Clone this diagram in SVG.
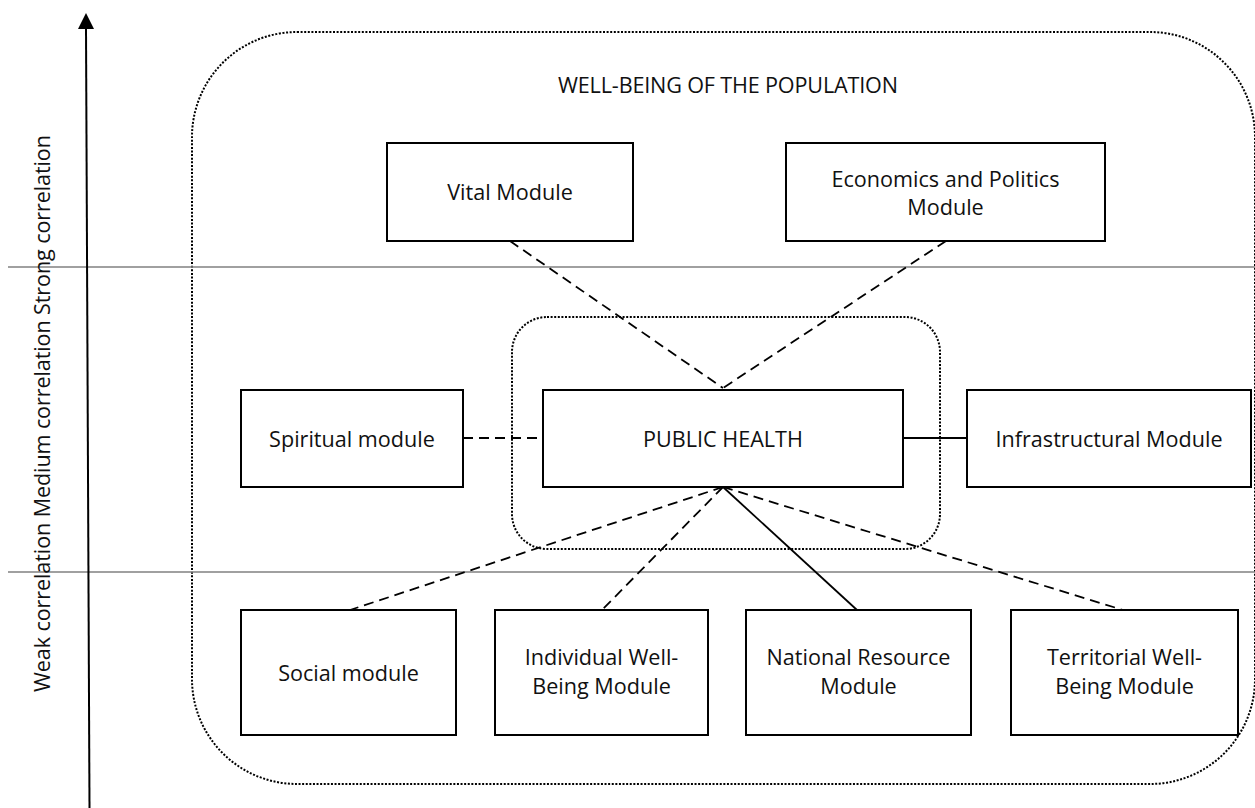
<svg xmlns="http://www.w3.org/2000/svg" width="1255" height="808" viewBox="0 0 1255 808">
<style>
  text { font-family: "Open Sans", "Liberation Sans", sans-serif; font-size: 21.6px; fill: #111111; }
  .box { fill: #ffffff; stroke: #000000; stroke-width: 2; }
  .dotted { fill: none; stroke: #000000; stroke-width: 2; stroke-dasharray: 2 1.6; }
  .band { stroke: #808080; stroke-width: 1.6; }
  .dash { stroke: #000000; stroke-width: 1.8; stroke-dasharray: 10 6; fill: none; }
  .solid { stroke: #000000; stroke-width: 1.8; fill: none; }
</style>
<rect width="1255" height="808" fill="#ffffff"/>

<g id="bands">
  <rect id="well-being-frame" class="dotted" x="192" y="32" width="1063" height="752" rx="105" ry="105"/>
  <line class="band" x1="8" y1="267" x2="1255" y2="267"/>
  <line class="band" x1="8" y1="572" x2="1255" y2="572"/>
  <rect id="public-health-frame" class="dotted" x="512" y="317" width="428" height="232" rx="35" ry="35"/>
  <text x="728" y="93" text-anchor="middle" textLength="340" lengthAdjust="spacing">WELL-BEING OF THE POPULATION</text>
</g>

<g id="axis">
  <line x1="89.5" y1="808" x2="86" y2="29" stroke="#000000" stroke-width="2"/>
  <polygon points="86,13 78,29 94,29" fill="#000000"/>
  <text transform="translate(50,413.5) rotate(-90)" x="0" y="0" text-anchor="middle" textLength="557" lengthAdjust="spacing">Weak correlation Medium correlation Strong correlation</text>
</g>

<g id="connectors">
  <line class="dash" x1="510" y1="241" x2="723" y2="388"/>
  <line class="dash" x1="946" y1="241" x2="723" y2="388"/>
  <line class="dash" x1="463" y1="438" x2="543" y2="438"/>
  <line class="solid" x1="903" y1="438" x2="967" y2="438"/>
  <line class="dash" x1="723" y1="487" x2="350" y2="610"/>
  <line class="dash" x1="723" y1="487" x2="602" y2="610"/>
  <line class="solid" x1="723" y1="487" x2="857" y2="610"/>
  <line class="dash" x1="723" y1="487" x2="1123" y2="610"/>
</g>

<g id="vital-module">
  <rect class="box" x="387" y="143" width="246" height="98"/>
  <text x="510" y="200" text-anchor="middle">Vital Module</text>
</g>
<g id="economics-politics-module">
  <rect class="box" x="786" y="143" width="319" height="98"/>
  <text x="945.5" y="187" text-anchor="middle">Economics and Politics</text>
  <text x="945.5" y="215" text-anchor="middle">Module</text>
</g>
<g id="spiritual-module">
  <rect class="box" x="241" y="390" width="222" height="97"/>
  <text x="352" y="447" text-anchor="middle">Spiritual module</text>
</g>
<g id="public-health">
  <rect class="box" x="543" y="390" width="360" height="97"/>
  <text x="723" y="447" text-anchor="middle">PUBLIC HEALTH</text>
</g>
<g id="infrastructural-module">
  <rect class="box" x="967" y="390" width="284" height="97"/>
  <text x="1109" y="447" text-anchor="middle">Infrastructural Module</text>
</g>
<g id="social-module">
  <rect class="box" x="241" y="610" width="215" height="125"/>
  <text x="348.5" y="681" text-anchor="middle">Social module</text>
</g>
<g id="individual-well-being-module">
  <rect class="box" x="495" y="610" width="213" height="125"/>
  <text x="601.5" y="665" text-anchor="middle">Individual Well-</text>
  <text x="601.5" y="694" text-anchor="middle">Being Module</text>
</g>
<g id="national-resource-module">
  <rect class="box" x="746" y="610" width="225" height="125"/>
  <text x="858.5" y="665" text-anchor="middle">National Resource</text>
  <text x="858.5" y="694" text-anchor="middle">Module</text>
</g>
<g id="territorial-well-being-module">
  <rect class="box" x="1011" y="610" width="227" height="125"/>
  <text x="1124.5" y="665" text-anchor="middle">Territorial Well-</text>
  <text x="1124.5" y="694" text-anchor="middle">Being Module</text>
</g>
</svg>
